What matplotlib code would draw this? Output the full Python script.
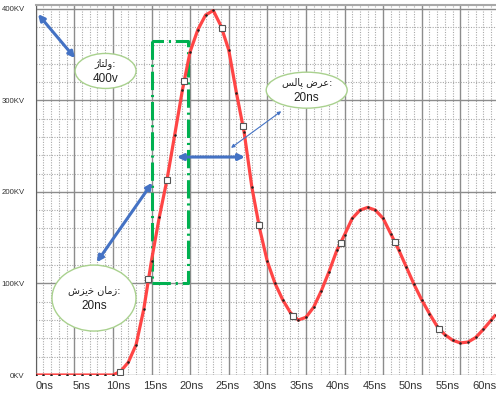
import numpy as np
import matplotlib.pyplot as plt
from matplotlib.patches import Ellipse

# pulse voltage (ns, kV), last point is where the picture is cut
t_ns = [0, 1, 2, 3, 4, 5, 6, 7, 8, 9, 10,
        11, 12, 13, 14, 15, 16, 17, 18, 19, 20,
        21, 22, 23, 24, 25, 26, 27, 28, 29, 30,
        31, 32, 33, 34, 35, 36, 37, 38, 39, 40,
        41, 42, 43, 44, 45, 46, 47, 48, 49, 50,
        51, 52, 53, 54, 55, 56, 57, 58, 59, 59.6]
v_kv = [0, 0, 0, 0, 0, 0, 0, 0, 0, 0, 0,
        4, 14, 33, 72, 125, 172, 213, 262, 311, 353,
        377, 393, 398, 381, 355, 308, 265, 205, 160, 124,
        100, 82, 68, 60, 63, 74, 92, 113, 136, 153,
        171, 180, 183, 180, 171, 154, 137, 118, 99, 82,
        67, 53, 44, 38, 35, 36, 41, 50, 60, 66]

# white square probe markers
mark_t = [10.9, 14.6, 17.0, 19.2, 24.1, 26.9, 28.9, 33.3, 39.5, 46.6, 52.3]
mark_v = [3, 105, 213, 321, 379, 272, 164, 64, 144, 145, 50]

x_labels = ['0ns', '5ns', '10ns', '15ns', '20ns', '25ns', '30ns',
            '35ns', '40ns', '45ns', '50ns', '55ns', '60ns']
y_labels = ['0KV', '100KV', '200KV', '300KV', '400KV']

# persian notes, written in presentation forms (visual order) since matplotlib does no shaping
note_volt = '\uFB8A\uFE8E\uFE98\uFEDF\uFEED:'
note_width = '\uFEB2\uFEDF\uFE8E\uFB58 \uFEBD\uFEAE\uFECB:'
note_rise = '\uFEB5\uFEB0\uFBFE\uFEA7 \uFEE5\uFE8E\uFEE3\uFEAF:'

narrow = ['Liberation Sans Narrow', 'Liberation Sans', 'DejaVu Sans']

fig = plt.figure(figsize=(4.96, 3.94), dpi=100)
ax = fig.add_axes([35.7 / 496, 19 / 394, 460.3 / 496, 370 / 394])
ax.set_xlim(0, 59.62)
ax.set_ylim(0, 404)

# grid: dotted every 1ns / 20kV, solid every 5ns / 100kV
for x in range(0, 60):
    if x % 5 == 0:
        ax.axvline(x, color='#8c8c8c', lw=1.0, zorder=1)
    else:
        ax.axvline(x, color='#aaaaaa', lw=0.8, ls=(0, (1, 1.3)), zorder=1)
for y in range(0, 420, 20):
    if y % 100 == 0:
        ax.axhline(y, color='#8c8c8c', lw=1.0, zorder=1)
    else:
        ax.axhline(y, color='#aaaaaa', lw=0.8, ls=(0, (1, 1.3)), zorder=1)

for s in ['right', 'bottom']:
    ax.spines[s].set_visible(False)
ax.spines['left'].set_color('#606060')
ax.spines['top'].set_color('#a8a8a8')
ax.spines['top'].set_linewidth(1.5)

ax.set_xticks([1.2 + 4.74 * i for i in range(len(x_labels))], x_labels,
              family=narrow, fontsize=8, color='#333333')
ax.set_yticks([0, 100, 200, 300, 400], y_labels,
              family=narrow, fontsize=5.6, color='#333333')
ax.tick_params(axis='x', length=0, pad=4)
ax.tick_params(axis='y', length=0, pad=8)
ax.get_yticklabels()[-1].set_y(392)
ax.get_yticklabels()[2].set_y(191)

# green dash-dot box for the rise time
bx = [15.05, 15.05, 19.7, 19.7, 15.05]
by = [365, 100, 100, 365, 365]
ax.plot(bx, by, color='#00b050', lw=2.2, ls=(0, (6, 1.6, 0.7, 1.6)), zorder=2)

ax.plot(t_ns, v_kv, color='#ff4545', lw=2.3, zorder=3, solid_capstyle='butt')
ax.plot(t_ns, v_kv, ls='none', marker='.', ms=1.6, color='#202020', zorder=4)
ax.plot(mark_t, mark_v, ls='none', marker='s', ms=5, mfc='white', mec='#555555',
        mew=0.8, zorder=5)

blue = '#4472c4'
ax.annotate('', xy=(0.3, 394), xytext=(5.1, 346),
            arrowprops=dict(arrowstyle='<|-|>', color=blue, lw=2.2,
                            mutation_scale=9, shrinkA=0, shrinkB=0), zorder=6)
ax.annotate('', xy=(18.3, 238), xytext=(27.1, 238),
            arrowprops=dict(arrowstyle='<|-|>', color=blue, lw=2.2,
                            mutation_scale=9, shrinkA=0, shrinkB=0), zorder=6)
ax.annotate('', xy=(25.3, 248), xytext=(31.8, 288),
            arrowprops=dict(arrowstyle='<|-|>', color=blue, lw=0.8,
                            mutation_scale=5, shrinkA=0, shrinkB=0), zorder=6)
ax.annotate('', xy=(7.9, 123), xytext=(15.1, 210),
            arrowprops=dict(arrowstyle='<|-|>', color=blue, lw=2.2,
                            mutation_scale=9, shrinkA=0, shrinkB=0), zorder=6)

# callout ellipses (centres and sizes, in data units)
notes = [((9.05, 332), 61 / 7.72, 35 / 0.916, note_volt, '400v'),
         ((35.1, 311), 81 / 7.72, 36 / 0.916, note_width, '20ns'),
         ((7.55, 84), 84 / 7.72, 66 / 0.916, note_rise, '20ns')]
for (cx, cy), w, h, top, bottom in notes:
    ax.add_patch(Ellipse((cx, cy), w, h, facecolor='white', edgecolor='#a9d18e',
                         lw=1.0, zorder=7))
    ax.text(cx, cy + 8.5, top, ha='center', va='center', fontsize=7,
            family='DejaVu Sans', color='#222222', zorder=8)
    ax.text(cx, cy - 8.5, bottom, ha='center', va='center', fontsize=8.5,
            family=narrow, color='#222222', zorder=8)

fig.savefig('out.png', dpi=100)
